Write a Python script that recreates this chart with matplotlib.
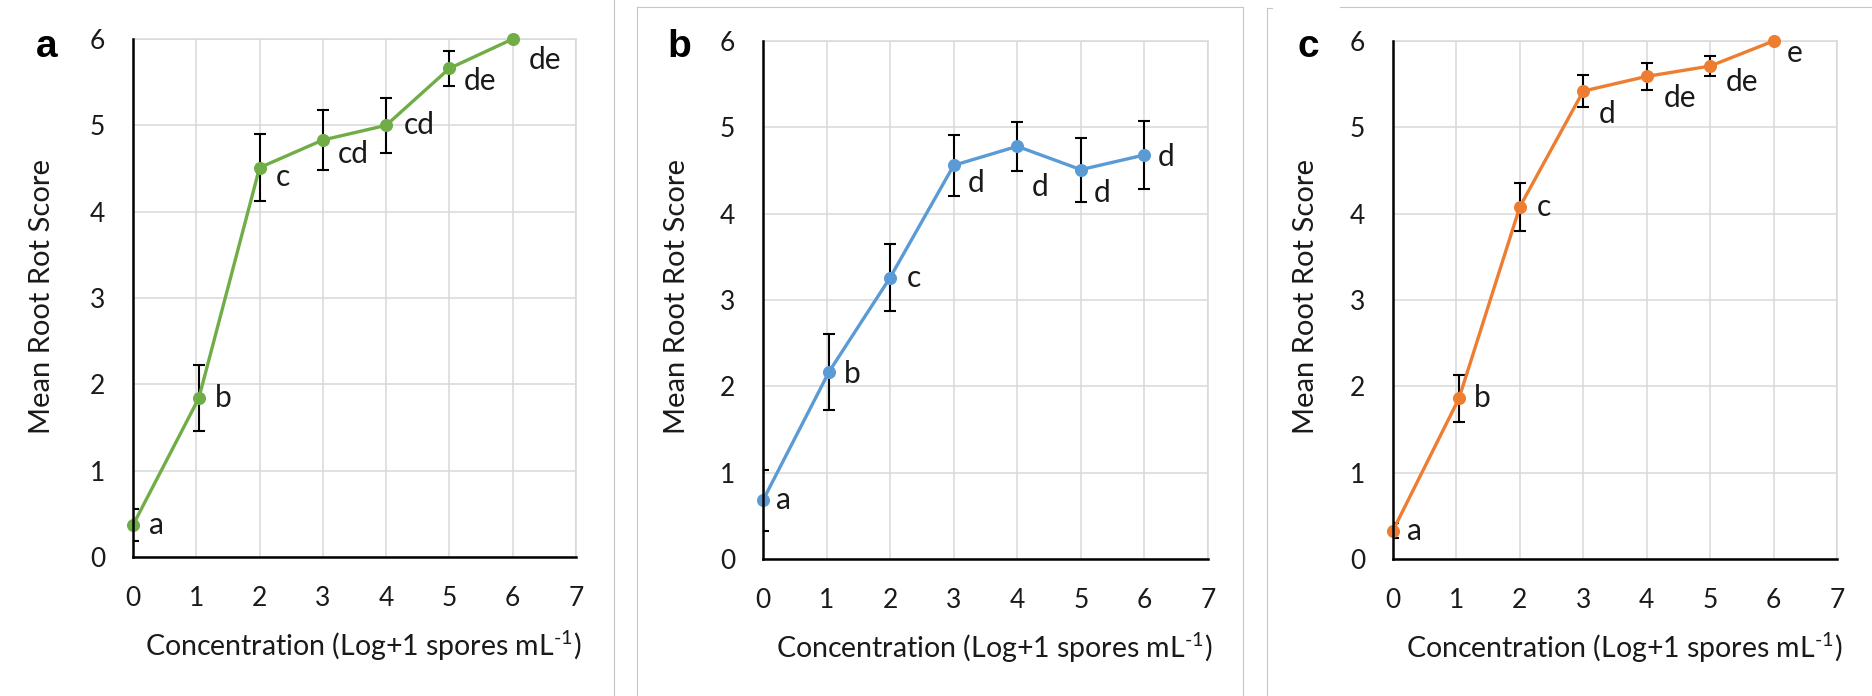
import matplotlib
matplotlib.use('Agg')
import matplotlib.pyplot as plt
from matplotlib.lines import Line2D

plt.rcParams['font.family'] = ['Lato', 'DejaVu Sans']
plt.rcParams['mathtext.fontset'] = 'custom'
plt.rcParams['mathtext.rm'] = 'Lato'

##### DATA #####
# Concentration on log(x+1) scale
conc = [0, 1.04, 2.0, 3.0, 4.0, 5.0, 6.0]

score_a = [0.37, 1.84, 4.51, 4.83, 5.00, 5.66, 6.00]
err_a = [0.19, 0.38, 0.39, 0.35, 0.32, 0.20, 0.0]
groups_a = ['a', 'b', 'c', 'cd', 'cd', 'de', 'de']

score_b = [0.68, 2.17, 3.26, 4.56, 4.78, 4.51, 4.68]
err_b = [0.35, 0.44, 0.39, 0.35, 0.28, 0.37, 0.39]
groups_b = ['a', 'b', 'c', 'd', 'd', 'd', 'd']

score_c = [0.33, 1.86, 4.08, 5.42, 5.59, 5.71, 6.00]
err_c = [0.09, 0.27, 0.28, 0.19, 0.16, 0.12, 0.0]
groups_c = ['a', 'b', 'c', 'd', 'de', 'de', 'e']

x_ticks = [0, 1, 2, 3, 4, 5, 6, 7]
y_ticks = [0, 1, 2, 3, 4, 5, 6]

##### LAYOUT #####
W, H = 1872, 696
TXT = '#1a1a1a'
GRID = '#d9d9d9'

# letter offsets (pixels) next to each point
offs_a = [(16, 0), (16, 0), (16, -9), (15, -14), (18, 0), (14, -13), (16, -21)]
offs_b = [(13, 0), (15, -2), (17, 0), (14, -18), (14, -41), (13, -23), (13, -2)]
offs_c = [(14, 0), (15, 0), (17, 0), (15, -23), (17, -22), (16, -16), (13, -12)]

panels = [
    ('a', [133, 39, 576, 557], score_a, err_a, groups_a, offs_a, '#70AD47', 42, 47),
    ('b', [763, 41, 1208, 559], score_b, err_b, groups_b, offs_b, '#5B9BD5', 677, 679),
    ('c', [1393, 41, 1837, 559], score_c, err_c, groups_c, offs_c, '#ED7D31', 1306, 1308),
]

fig = plt.figure(figsize=(W / 100, H / 100), dpi=100)

for tag, (x0, y0, x1, y1), score, err, groups, offs, color, ylab_x, tag_x in panels:
    ax = fig.add_axes([x0 / W, 1 - y1 / H, (x1 - x0) / W, (y1 - y0) / H])
    ax.set_xlim(0, 7)
    ax.set_ylim(0, 6)
    ax.set_xticks(x_ticks)
    ax.set_yticks(y_ticks)
    ax.grid(True, color=GRID, linewidth=1.1)
    ax.set_axisbelow(True)
    for side in ['top', 'right']:
        ax.spines[side].set_color(GRID)
        ax.spines[side].set_linewidth(1.1)
    for side in ['left', 'bottom']:
        ax.spines[side].set_color('black')
        ax.spines[side].set_linewidth(1.8)
        ax.spines[side].set_zorder(5)
    ax.tick_params(axis='both', length=0, labelsize=19, labelcolor=TXT)
    ax.tick_params(axis='y', pad=20)
    ax.tick_params(axis='x', pad=21)

    # error bars only where there is spread
    xs = [c for c, e in zip(conc, err) if e > 0]
    ys = [s for s, e in zip(score, err) if e > 0]
    es = [e for e in err if e > 0]
    ax.errorbar(xs, ys, yerr=es, fmt='none', ecolor='black', elinewidth=1.5,
                capsize=4.3, capthick=1.5, zorder=3)
    ax.plot(conc, score, color=color, linewidth=2.4, marker='o', markersize=8.4,
            zorder=4, clip_on=False)

    for c, s, g, (dx, dy) in zip(conc, score, groups, offs):
        ax.annotate(g, (c, s), xytext=(dx, dy), textcoords='offset pixels',
                    ha='left', va='center', fontsize=21.5, color=TXT)

    ax.text(0.52, -0.171, 'Concentration (Log+1 spores mL$^{\\text{-1}}$)',
            transform=ax.transAxes, ha='center', va='center', fontsize=20.5, color=TXT)
    fig.text(ylab_x / W, 1 - 297 / H, 'Mean Root Rot Score', rotation=90,
             ha='center', va='center', fontsize=21, color=TXT)
    fig.text(tag_x / W, 1 - 47 / H, tag, ha='center', va='center', fontsize=28,
             fontweight='bold', family='Liberation Sans', color='black')

# panel frames
frame = dict(color='#c6c6c6', linewidth=0.8)
segments = [
    ([614, 614], [0, 696]),
    ([637, 637], [7, 696]), ([637, 1243], [7, 7]), ([1243, 1243], [7, 696]),
    ([1267, 1267], [8, 696]), ([1267, 1272], [8, 8]), ([1340, 1872], [7, 7]),
]
for sx, sy in segments:
    fig.add_artist(Line2D([v / W for v in sx], [1 - v / H for v in sy], **frame))

fig.savefig('out.png', dpi=100, facecolor='white')
